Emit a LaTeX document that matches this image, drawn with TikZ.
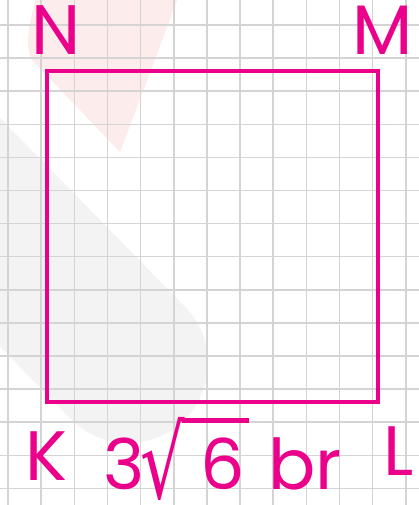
\documentclass[tikz,border=0pt]{standalone}
\usepackage{fontspec}
\setmainfont{Poppins}
\newfontfamily\symfont{DejaVu Sans}
\usepackage{tikz}
\usetikzlibrary {positioning}
\definecolor{sqpink}{RGB}{234,0,139}
\definecolor{gridgray}{RGB}{212,212,212}
\definecolor{blobgray}{RGB}{243,243,243}
\definecolor{blobpink}{RGB}{253,236,236}

\begin{document}
\begin{tikzpicture}[x=1pt,y=-1pt,
	gridline/.style={gridgray, line width=1.5pt},
	side/.style={sqpink, line width=4.5pt, line join=miter},
	lbl/.style={sqpink, font=\fontsize{70}{70}\selectfont, inner sep=0pt, text depth=0pt, anchor=base west}]
	\useasboundingbox (0,0) rectangle (419,505);
	\fill[white] (0,0) rectangle (419,505);
	\draw[blobgray, line width=160pt, line cap=round] (-100,130) -- (128,363);
	\fill[blobpink] (36,-2) .. controls (30,20) and (24,45) .. (32,60) -- (120,152) -- (178,-2) -- cycle;
	\foreach \k in {0,...,12}
		\draw[gridline] (8+33.15*\k,0) -- (8+33.15*\k,505);
	\foreach \k in {0,...,14}
		\draw[gridline] (0,25+33.1*\k) -- (419,25+33.1*\k);
	\coordinate (K) at (47,402);
	\coordinate (L) at (378,402);
	\coordinate (M) at (378,71);
	\coordinate (N) at (47,71);
	\draw[side] (K) -- (L) -- (M) -- (N) -- cycle;
	\node[lbl] (lblN) at (31,55) {N};
	\node[lbl] (lblM) at (352,55) {M};
	\node[lbl] (lblK) at (25,480) {K};
	\node[lbl] (lblL) at (383,475) {L};
	\node[lbl] (three) at (103,489) {3};
	\node[lbl, font=\symfont\fontsize{100}{100}\selectfont, xscale=0.7, transform shape, anchor=south west] (rootsign) at (140,499) {√};
	\node[lbl] (six) at (200,489) {6};
	\draw[sqpink, line width=5pt] ([xshift=-3pt,yshift=-2.5pt]rootsign.north east) -- ++(67,0) coordinate (barend);
	\node[lbl] (unit) at (268,489) {br};
\end{tikzpicture}
\end{document}
